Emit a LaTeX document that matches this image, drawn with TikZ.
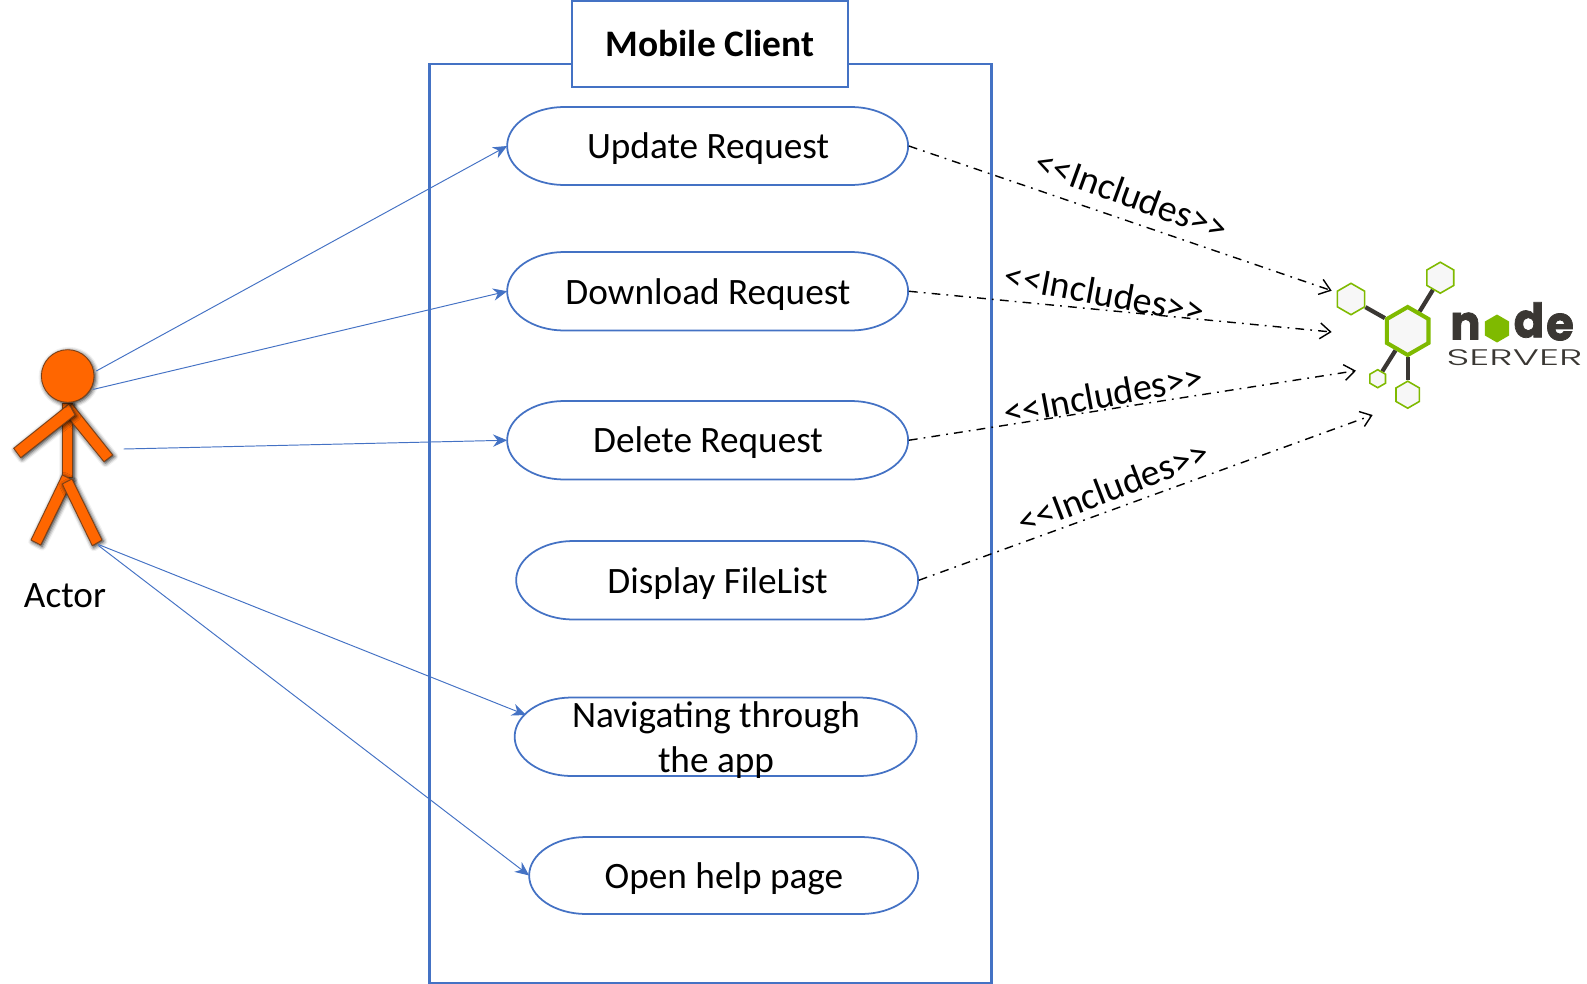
\documentclass[tikz,border=0pt]{standalone}
\usepackage{fontspec}
\setmainfont{Carlito}
\newfontfamily\logofont[BoldFeatures={FakeBold=1.6}]{Poppins}
\newfontfamily\logothin{Poppins Light}
\usetikzlibrary{arrows.meta,shapes.geometric,shadows.blur,backgrounds}
\definecolor{ublue}{HTML}{4472C4}
\definecolor{actorfill}{HTML}{FF6600}
\definecolor{actorline}{HTML}{7A4018}
\definecolor{nodegreen}{HTML}{7FBA00}
\definecolor{hexfill}{HTML}{F7F7F7}
\definecolor{nodedark}{HTML}{3A3733}
\tikzset{
  x=0.02cm,y=-0.02cm,
  frame/.style={draw=ublue,line width=1.25pt},
  caseshape/.style={draw=ublue,line width=1pt},
  casetext/.style={inner sep=0pt,font=\fontsize{21.2}{25.6}\selectfont,align=center},
  uses/.style={draw=ublue,line width=0.55pt,-{Stealth[length=8pt,width=7pt]}},
  includes/.style={draw=black,line width=0.8pt,dash pattern=on 5pt off 3.5pt on 1pt off 3.5pt,-{Straight Barb[length=6pt,width=9pt,line width=0.8pt]}},
  inclabel/.style={inner sep=0pt,font=\fontsize{21.5}{26}\selectfont},
  limb/.style={fill=actorfill,draw=actorline,line width=0.5pt,blur shadow={shadow xshift=0.8pt,shadow yshift=-0.8pt,shadow blur radius=2.4pt,shadow opacity=90}},
  hexa/.style={shape=regular polygon,regular polygon sides=6,regular polygon rotate=30,inner sep=0pt,fill=hexfill,draw=nodegreen,line width=0.9pt},
  hexlink/.style={draw=nodedark,line width=2.4pt},
  logoletter/.style={inner sep=0pt,text=nodedark,font=\logofont\bfseries\fontsize{27}{27}\selectfont}
}
\newcommand{\usecase}[7]{%
  \pgfmathsetmacro{\cx}{(#2+#3)/2}%
  \pgfmathsetmacro{\cy}{(#4+#5)/2}%
  \pgfmathsetmacro{\ry}{(#5-#4)/2*0.02}%
  \pgfmathsetmacro{\flat}{#3-#2-114}%
  \node[casetext,minimum width={(#3-#2)*0.02cm},minimum height={(#5-#4)*0.02cm}] (#1) at (\cx,\cy) {};
  \draw[caseshape] (#1.west)
    arc[start angle=180,end angle=90,x radius=1.14cm,y radius=\ry cm]
    -- ++(\flat,0)
    arc[start angle=90,end angle=-90,x radius=1.14cm,y radius=\ry cm]
    -- ++(-\flat,0)
    arc[start angle=-90,end angle=-180,x radius=1.14cm,y radius=\ry cm] -- cycle;
  \node[casetext] (#1text) at (\cx,\cy+#6) {#7};
}
\begin{document}
\begin{tikzpicture}
\useasboundingbox (0,0) rectangle (1587,984);

% system boundary and title
\draw[frame] (429.5,64) rectangle (991.5,983.5);
\node[frame,fill=white,minimum width=276*0.02cm,minimum height=86*0.02cm,inner sep=0pt,font=\fontsize{21.3}{25}\selectfont\bfseries] (title) at (710,44) {Mobile Client};

% use cases
\usecase{upd}{507.5}{908.5}{107}{185}{3}{Update Request}
\usecase{dl}{507.5}{908.5}{252}{330.5}{3}{Download Request}
\usecase{del}{507.5}{908.5}{401}{479.5}{2}{Delete Request}
\usecase{disp}{516.5}{918.5}{541}{619.5}{3}{Display FileList}
\usecase{nav}{515}{917}{697.5}{776}{3}{Navigating through\\the app}
\usecase{help}{529.5}{918.5}{837}{914}{3}{Open help page}

% actor
\draw[limb] (62.3,403) rectangle (72.7,477);
\draw[limb] (72,404) -- (112.7,455) -- (104,461.7) -- (63.3,411.7) -- cycle;
\draw[limb] (69,404) -- (75,415) -- (20.7,457.7) -- (13.7,448.3) -- cycle;
\draw[limb] (62.3,475) -- (72.7,480) -- (40.7,545) -- (31,540) -- cycle;
\draw[limb] (62.3,484) -- (72,479) -- (102,540) -- (92.3,545.7) -- cycle;
\node[limb,shape=circle,minimum size=52.6*0.02cm,inner sep=0pt] (head) at (67.7,376) {};
\node[casetext] (actorlabel) at (65,596) {Actor};

\coordinate (s1) at (96.3,371);
\coordinate (s2) at (93.3,389.4);
\coordinate (s3) at (123.7,449);
\coordinate (s4) at (98.4,544.5);
\coordinate (s5) at (98.4,545.5);
\coordinate (navin) at (526,715);
\draw[uses] (s1) -- (upd.west);
\draw[uses] (s2) -- (dl.west);
\draw[uses] (s3) -- (del.west);
\draw[uses] (s4) -- (navin);
\draw[uses] (s5) -- (help.west);

% server logo
\node[hexa,minimum size=31.4*0.02cm] (h1) at (1351,299) {};
\node[hexa,minimum size=31*0.02cm] (h2) at (1440.3,277.7) {};
\node[hexa,minimum size=18*0.02cm] (h3) at (1377.7,378.7) {};
\node[hexa,minimum size=27*0.02cm] (h4) at (1407.7,394.7) {};
\node[hexa,minimum size=48*0.02cm,line width=2.3pt] (hub) at (1407.7,331) {};
\begin{pgfonlayer}{background}
\draw[hexlink] (h1) -- (hub);
\draw[hexlink] (h2) -- (hub);
\draw[hexlink] (h3) -- (hub);
\draw[hexlink] (h4) -- (hub);
\end{pgfonlayer}

\node[logoletter,xscale=0.95] (ln) at (1465.5,326) {n};
\node[hexa,minimum size=28*0.02cm,fill=nodegreen,draw=none] (lo) at (1497,328.5) {};
\node[logoletter,xscale=0.95] (ld) at (1529,320) {d};
\node[logoletter,xscale=0.95] (le) at (1560,327) {e};
\node[inner sep=0pt,text=nodedark,font=\logothin\fontsize{12.8}{13}\selectfont,xscale=1.77] (srv) at (1514.5,358) {SERVER};

% include relations
\coordinate (t1) at (1331.7,290.7);
\coordinate (t2) at (1331.7,332);
\coordinate (t3) at (1356,370.7);
\coordinate (t4) at (1372.7,415);
\draw[includes] (upd.east) -- (t1);
\draw[includes] (dl.east) -- (t2);
\draw[includes] (del.east) -- (t3);
\draw[includes] (disp.east) -- (t4);
\node[inclabel,rotate=-20] (l1) at (1131.7,195) {<\kern0pt<Includes>\kern0pt>};
\node[inclabel,rotate=-10.5] (l2) at (1104.5,293) {<\kern0pt<Includes>\kern0pt>};
\node[inclabel,rotate=10.5] (l3) at (1103.5,394.5) {<\kern0pt<Includes>\kern0pt>};
\node[inclabel,rotate=21] (l4) at (1113,487) {<\kern0pt<Includes>\kern0pt>};
\end{tikzpicture}
\end{document}
